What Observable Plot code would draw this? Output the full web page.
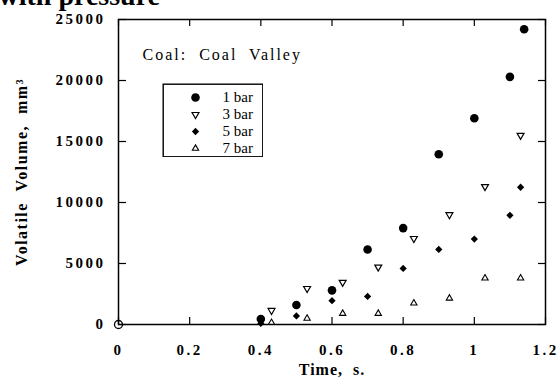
<!DOCTYPE html>
<html>
<head>
<meta charset="utf-8">
<script src="https://cdn.jsdelivr.net/npm/d3@7"></script>
<script src="https://cdn.jsdelivr.net/npm/@observablehq/plot@0.6"></script>
<style>
  html, body { margin: 0; padding: 0; background: #fff; overflow: hidden; }
  #wrap { position: relative; width: 558px; height: 385px; }
  #legend { position: absolute; left: 162px; top: 83px; }
  svg text { white-space: pre; }
  g[aria-label="x-axis tick label"] text,
  g[aria-label="y-axis tick label"] text { letter-spacing: 2.5px; }
</style>
</head>
<body>
<div id="wrap"><div id="legend"></div></div>
<script>
// ---- data ----
const seriesNames = ["1 bar", "3 bar", "5 bar", "7 bar"];

const time1 = [0.4, 0.5, 0.6, 0.7, 0.8, 0.9, 1.0, 1.1, 1.14];
const vol1  = [450, 1600, 2800, 6150, 7900, 13950, 16900, 20300, 24200];

const time3 = [0.43, 0.53, 0.63, 0.73, 0.83, 0.93, 1.03, 1.13];
const vol3  = [1150, 2950, 3450, 4700, 7050, 9000, 11300, 15500];

const time5 = [0.4, 0.5, 0.6, 0.7, 0.8, 0.9, 1.0, 1.1, 1.13];
const vol5  = [100, 700, 1950, 2300, 4600, 6150, 7000, 8950, 11250];

const time7 = [0.43, 0.53, 0.63, 0.73, 0.83, 0.93, 1.03, 1.13];
const vol7  = [150, 500, 900, 900, 1750, 2150, 3800, 3800];

const originTime = [0];
const originVol  = [0];

const xTicks = [0, 0.2, 0.4, 0.6, 0.8, 1, 1.2];
const yTicks = [0, 5000, 10000, 15000, 20000, 25000];

const headerText = "with pressure";
const titleText = "Coal:  Coal  Valley";
const xLabel = "Time,  s.";
const yLabel = "Volatile  Volume,  mm\u00B3";

// ---- build tables ----
const toRows = (ts, vs, name) => ts.map((t, i) => ({time: t, vol: vs[i], series: name}));
const data = {
  "1 bar": toRows(time1, vol1, "1 bar"),
  "3 bar": toRows(time3, vol3, "3 bar"),
  "5 bar": toRows(time5, vol5, "5 bar"),
  "7 bar": toRows(time7, vol7, "7 bar")
};
const origin = toRows(originTime, originVol, "origin");

// marker styles
const markerStyle = {
  "1 bar": {symbol: "circle", fill: "black", stroke: "none", r: 4.3, rotate: 0},
  "3 bar": {symbol: "triangle2", fill: "none", stroke: "black", strokeWidth: 1.2, r: 3.3, rotate: 180},
  "5 bar": {symbol: "square", fill: "black", stroke: "none", r: 2.9, rotate: 45},
  "7 bar": {symbol: "triangle2", fill: "none", stroke: "black", strokeWidth: 1.1, r: 3.0, rotate: 0}
};

const serif = "'Liberation Serif', 'DejaVu Serif', serif";
const frameH = 385 - 19 - 61;
const frameW = 558 - 118 - 13;
const tickLen = 7;

const chart = Plot.plot({
  width: 558,
  height: 385,
  marginLeft: 118,
  marginRight: 13,
  marginTop: 19,
  marginBottom: 61,
  x: {domain: [0, 1.2]},
  y: {domain: [0, 25000]},
  style: {fontFamily: serif, background: "white", color: "black"},
  marks: [
    Plot.frame({stroke: "black", strokeWidth: 1.5}),
    // inward ticks on all four sides
    Plot.tickX(xTicks, {x: d => d, insetTop: frameH - tickLen, stroke: "black", strokeWidth: 1.2}),
    Plot.tickX(xTicks, {x: d => d, insetBottom: frameH - tickLen, stroke: "black", strokeWidth: 1.2}),
    Plot.tickY(yTicks, {y: d => d, insetRight: frameW - tickLen - 1, stroke: "black", strokeWidth: 1.2}),
    Plot.tickY(yTicks, {y: d => d, insetLeft: frameW - tickLen, stroke: "black", strokeWidth: 1.2}),
    Plot.axisX(xTicks, {tickSize: 0, tickPadding: 20, fontSize: 15, fontWeight: "bold", label: null, tickFormat: d => String(d)}),
    Plot.axisY(yTicks, {tickSize: 0, tickPadding: 13, fontSize: 15, fontWeight: "bold", label: null, tickFormat: d => String(d)}),
    // origin marker
    Plot.dot(origin, {x: "time", y: "vol", r: 4, stroke: "black", fill: "none", strokeWidth: 1.3}),
    // series
    ...seriesNames.map(name => Plot.dot(data[name], {x: "time", y: "vol", ...markerStyle[name]})),
    // texts
    Plot.text([titleText], {text: d => d, frameAnchor: "top-left", dx: 24, dy: 29, textAnchor: "start", fontSize: 16}),
    Plot.text([xLabel], {text: d => d, frameAnchor: "bottom", dy: 50, textAnchor: "middle", fontSize: 16, fontWeight: "bold"}),
    Plot.text([yLabel], {text: d => d, frameAnchor: "left", dx: -97, dy: 0, rotate: -90, textAnchor: "middle", fontSize: 16, fontWeight: "bold"}),
    Plot.text([headerText], {text: d => d, frameAnchor: "top-left", dx: -120, dy: -15, lineAnchor: "bottom", textAnchor: "start", fontSize: 28, fontWeight: "bold"})
  ]
});
document.getElementById("wrap").insertBefore(chart, document.getElementById("legend"));

// letter spacing for the spaced-out labels of the original
const spacing = {[titleText]: "2px", [xLabel]: "1px", [yLabel]: "1.5px"};
d3.select(chart).selectAll("text").each(function() {
  const s = spacing[this.textContent];
  if (s) this.style.letterSpacing = s;
});

// legend (a small Plot placed inside the frame)
const legend = Plot.plot({
  width: 101,
  height: 74,
  margin: 0,
  x: {domain: [0, 1], axis: null},
  y: {type: "point", domain: seriesNames, range: [13, 66], padding: 0, axis: null},
  style: {fontFamily: serif, background: "white", color: "black"},
  marks: [
    Plot.frame({stroke: "black", strokeWidth: 1.4, inset: 0.7}),
    ...seriesNames.map(name => Plot.dot([name], {x: () => 0, y: d => d, dx: 33, ...markerStyle[name]})),
    Plot.text(seriesNames, {x: () => 0, y: d => d, dx: 60, text: d => d, textAnchor: "start", fontSize: 15})
  ]
});
document.getElementById("legend").appendChild(legend);
</script>
</body>
</html>
